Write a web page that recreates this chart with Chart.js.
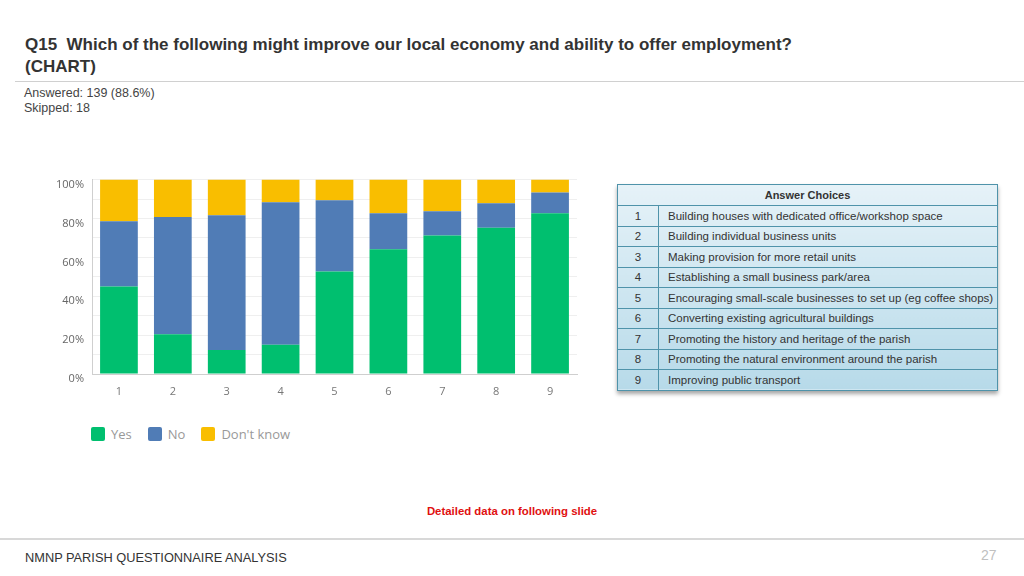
<!DOCTYPE html>
<html>
<head>
<meta charset="utf-8">
<script src="https://cdn.jsdelivr.net/npm/chart.js@4"></script>
<style>
  html, body { margin: 0; padding: 0; background: #fff; }
  body { width: 1024px; height: 576px; position: relative; overflow: hidden; font-family: "Liberation Sans", Arial, sans-serif; }
  .abs { position: absolute; }
  #title { left: 25px; top: 34px; font-size: 17px; font-weight: bold; color: #333; line-height: 22px; }
  #rule-top { left: 15px; top: 81px; width: 1009px; height: 1px; background: #d0d0d0; }
  #meta { left: 24px; top: 86px; font-size: 12.5px; color: #444; line-height: 15px; }
  #chart-box { left: 40px; top: 165px; width: 545px; height: 235px; }
  #legend { left: 91px; top: 425px; font-size: 13px; color: #999; display: flex; font-family: "Open Sans", sans-serif; }
  #legend span.item { display: flex; align-items: center; margin-right: 16px; }
  #legend span.sw { width: 14px; height: 14px; border-radius: 2px; margin-right: 6px; display: inline-block; }
  #choices { left: 617px; top: 184px; width: 381px; border-collapse: collapse; font-size: 11.5px; color: #333;
    background: linear-gradient(#e6f2f8, #b7dae9); box-shadow: 0 3px 4px rgba(0,0,0,0.35); border: 1px solid #4f93aa; }
  #choices td, #choices th { border-top: 1px solid #4f93aa; padding: 0; height: 19.5px; }
  #choices th { height: 20px; font-weight: bold; font-size: 11px; text-align: center; }
  #choices td.num { width: 40px; text-align: center; border-right: 1px solid #4f93aa; }
  #choices td.txt { padding-left: 9px; }
  #note { left: 0; width: 1024px; top: 505px; text-align: center; font-size: 11.4px; font-weight: bold; color: #e01010; }
  #rule-bot { left: 0; top: 538px; width: 1024px; height: 2px; background: #d8d8d8; }
  #footer { left: 25px; top: 550px; font-size: 12.8px; color: #333; }
  #page { left: 981px; top: 547px; font-size: 14px; color: #c0c0c0; }
</style>
</head>
<body>
<div id="title" class="abs">Q15&nbsp; Which of the following might improve our local economy and ability to offer employment?<br>(CHART)</div>
<div id="rule-top" class="abs"></div>
<div id="meta" class="abs">Answered: 139 (88.6%)<br>Skipped: 18</div>

<div id="chart-box" class="abs"><canvas id="chart"></canvas></div>
<div id="legend" class="abs"></div>

<table id="choices" class="abs"></table>

<div id="note" class="abs">Detailed data on following slide</div>
<div id="rule-bot" class="abs"></div>
<div id="footer" class="abs">NMNP PARISH QUESTIONNAIRE ANALYSIS</div>
<div id="page" class="abs">27</div>

<script>
// Chart data (percent of respondents)
const categories = ['1', '2', '3', '4', '5', '6', '7', '8', '9'];
const yesValues = [45.0, 20.5, 12.3, 15.1, 52.7, 64.2, 71.2, 75.2, 82.7];
const noValues = [33.6, 60.2, 69.4, 73.3, 36.7, 18.5, 12.5, 12.6, 10.6];
const dontKnowValues = [21.4, 19.3, 18.3, 11.6, 10.6, 17.3, 16.3, 12.2, 6.7];
const seriesNames = ['Yes', 'No', "Don't know"];
const seriesColors = ['#00bf6f', '#507cb6', '#f9be00'];
const yTicks = [0, 20, 40, 60, 80, 100];

const answerChoices = [
    'Building houses with dedicated office/workshop space',
    'Building individual business units',
    'Making provision for more retail units',
    'Establishing a small business park/area',
    'Encouraging small-scale businesses to set up (eg coffee shops)',
    'Converting existing agricultural buildings',
    'Promoting the history and heritage of the parish',
    'Promoting the natural environment around the parish',
    'Improving public transport'
];

// Answer choices table
const table = document.getElementById('choices');
let rows = '<tr><th colspan="2">Answer Choices</th></tr>';
answerChoices.forEach((text, i) => {
    rows += `<tr><td class="num">${categories[i]}</td><td class="txt">${text}</td></tr>`;
});
table.innerHTML = rows;

// Legend
const legend = document.getElementById('legend');
seriesNames.forEach((name, i) => {
    legend.innerHTML += `<span class="item"><span class="sw" style="background:${seriesColors[i]}"></span>${name}</span>`;
});

// Chart
const seriesValues = [yesValues, noValues, dontKnowValues];
const ctx = document.getElementById('chart').getContext('2d');
new Chart(ctx, {
    type: 'bar',
    data: {
        labels: categories,
        datasets: seriesNames.map((name, i) => ({
            label: name,
            data: seriesValues[i],
            backgroundColor: seriesColors[i],
            borderWidth: 0,
            categoryPercentage: 0.7,
            barPercentage: 1
        }))
    },
    options: {
        responsive: true,
        maintainAspectRatio: false,
        animation: false,
        layout: { padding: { top: 4, right: 8, left: 0, bottom: 0 } },
        plugins: {
            legend: { display: false },
            tooltip: { enabled: false }
        },
        scales: {
            x: {
                stacked: true,
                grid: { display: false, drawTicks: false },
                border: { color: '#cfcfcf' },
                ticks: { color: '#777', font: { size: 11, family: 'Open Sans' }, padding: 11 },
                afterFit: (scale) => { scale.height = 26; }
            },
            y: {
                stacked: true,
                min: 0,
                max: 100,
                grid: { color: '#efefef', drawTicks: false },
                border: { color: '#cfcfcf' },
                ticks: {
                    stepSize: 10,
                    padding: 8,
                    labelOffset: 5,
                    color: '#666',
                    font: { size: 11, family: 'Open Sans' },
                    callback: (v) => yTicks.includes(v) ? v + '%' : ''
                },
                afterFit: (scale) => { scale.width = 52; }
            }
        }
    }
});
</script>
</body>
</html>
